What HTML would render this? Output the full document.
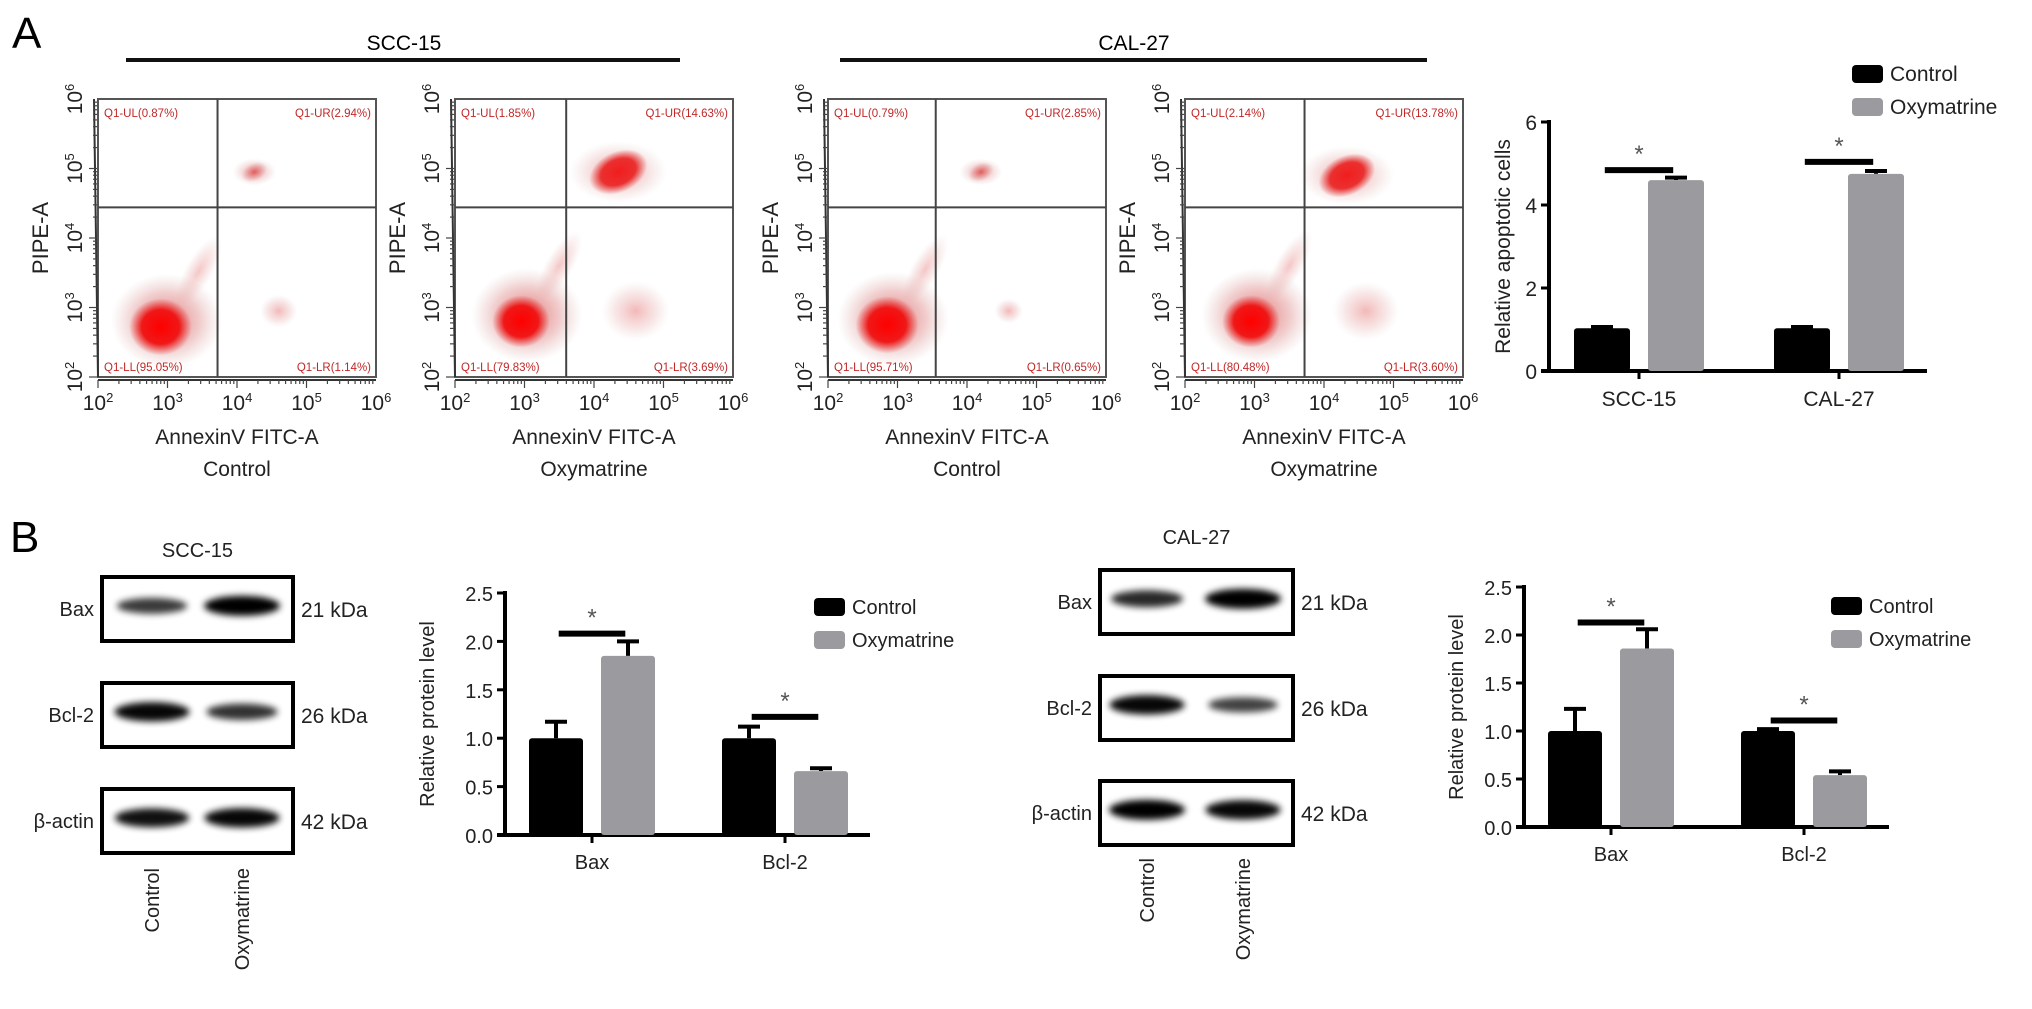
<!DOCTYPE html>
<html><head><meta charset="utf-8"><title>Oxymatrine apoptosis figure</title>
<style>
html,body{margin:0;padding:0;background:#fff;}
svg{display:block;font-family:"Liberation Sans",Arial,sans-serif;}
</style></head>
<body>
<svg id="fig" width="2032" height="1009" viewBox="0 0 2032 1009" xmlns="http://www.w3.org/2000/svg">
<defs>
<filter id="blur3" x="-30%" y="-60%" width="160%" height="220%"><feGaussianBlur stdDeviation="3.5"/></filter>
<radialGradient id="coreGrad"><stop offset="0" stop-color="#ff0000" stop-opacity="1"/><stop offset="0.6" stop-color="#f01010" stop-opacity="0.95"/><stop offset="1" stop-color="#e03030" stop-opacity="0"/></radialGradient>
<radialGradient id="haloGrad"><stop offset="0" stop-color="#e04040" stop-opacity="0.75"/><stop offset="0.6" stop-color="#d87070" stop-opacity="0.35"/><stop offset="1" stop-color="#d0a0a0" stop-opacity="0"/></radialGradient>
</defs>
<text x="12" y="48" font-size="44">A</text>
<text x="404" y="50" font-size="21" text-anchor="middle">SCC-15</text>
<line x1="126" y1="60" x2="680" y2="60" stroke="#111" stroke-width="4"/>
<text x="1134" y="50" font-size="21" text-anchor="middle">CAL-27</text>
<line x1="840" y1="60" x2="1427" y2="60" stroke="#111" stroke-width="4"/>
<text x="10" y="552" font-size="44">B</text>
<g id="flow"></g><g id="apop"></g><g id="blots"></g><g id="prot1"></g><g id="prot2"></g>
</svg>
<script>
// ---------- data ----------
const flowConditions = ['Control','Oxymatrine','Control','Oxymatrine'];
const flowUL = [0.87, 1.85, 0.79, 2.14];
const flowUR = [2.94, 14.63, 2.85, 13.78];
const flowLL = [95.05, 79.83, 95.71, 80.48];
const flowLR = [1.14, 3.69, 0.65, 3.60];
const flowGateX = [3.72, 3.6, 3.55, 3.72];
const flowGateY = [4.44, 4.44, 4.44, 4.44];
const flowLLX = [2.9, 2.95, 2.85, 2.95];
const flowLLY = [2.72, 2.8, 2.75, 2.8];
const flowURX = [4.25, 4.35, 4.2, 4.33];
const flowURY = [4.95, 4.95, 4.95, 4.9];
const flowTicks = [2,3,4,5,6];

const apopCats = ['SCC-15','CAL-27'];
const apopControl = [1.03, 1.03];
const apopControlErr = [0.03, 0.03];
const apopOxy = [4.6, 4.75];
const apopOxyErr = [0.06, 0.07];
const apopSig = [4.84, 5.04];
const apopTicks = [0, 2, 4, 6];

const protCats = ['Bax','Bcl-2'];
const protTicks = [0, 0.5, 1.0, 1.5, 2.0, 2.5];
const sccControl = [1.0, 1.0];
const sccControlErr = [0.17, 0.12];
const sccOxy = [1.85, 0.66];
const sccOxyErr = [0.15, 0.03];
const sccSig = [2.08, 1.22];
const calControl = [1.0, 1.0];
const calControlErr = [0.23, 0.02];
const calOxy = [1.86, 0.54];
const calOxyErr = [0.2, 0.04];
const calSig = [2.13, 1.11];

const blotProteins = ['Bax','Bcl-2','β-actin'];
const blotKDa = ['21 kDa','26 kDa','42 kDa'];
const sccBandControl = [0.65, 0.95, 0.9];
const sccBandOxy = [1.0, 0.7, 0.95];
const calBandControl = [0.75, 0.95, 1.0];
const calBandOxy = [1.0, 0.6, 0.95];

// ---------- helpers ----------
const NS = 'http://www.w3.org/2000/svg';
function mk(tag, attrs, parent){
  const e = document.createElementNS(NS, tag);
  for (const k in attrs) e.setAttribute(k, attrs[k]);
  parent.appendChild(e);
  return e;
}
function txt(parent, x, y, s, size, anchor, extra){
  const t = mk('text', Object.assign({x:x, y:y, 'font-size':size, 'text-anchor':anchor||'start'}, extra||{}), parent);
  t.textContent = s;
  return t;
}

// ---------- flow cytometry ----------
const flowG = document.getElementById('flow');
const flowLeft = [98, 455, 828, 1185];
const flowTop = 99, flowW = 278, flowH = 278;
for (let p = 0; p < 4; p++) {
  const L = flowLeft[p];
  const g = mk('g', {}, flowG);
  
  
  const sx = v => L + (v - 2) / 4 * flowW;
  const sy = v => flowTop + flowH - (v - 2) / 4 * flowH;
  const clip = mk('clipPath', {id: 'fc' + p}, g);
  mk('rect', {x: L, y: flowTop, width: flowW, height: flowH}, clip);
  const dots = mk('g', {'clip-path': 'url(#fc' + p + ')'}, g);
  const ll = mk('ellipse', {cx: sx(flowLLX[p]) + 6, cy: sy(flowLLY[p]) - 6, rx: flowW*0.2, ry: flowH*0.17, fill: 'url(#haloGrad)'}, dots);
  
  
  const diag = mk('ellipse', {cx: sx(flowLLX[p] + 0.55), cy: sy(flowLLY[p] + 0.8), rx: 14, ry: 40, fill: 'url(#haloGrad)', opacity: 0.4, transform: 'rotate(30 ' + sx(flowLLX[p] + 0.55) + ' ' + sy(flowLLY[p] + 0.8) + ')'}, dots);
  
  
  const core = mk('ellipse', {cx: sx(flowLLX[p]), cy: sy(flowLLY[p]), rx: flowW*0.11*Math.sqrt(flowLL[p]/90), ry: flowH*0.1*Math.sqrt(flowLL[p]/90), fill: 'url(#coreGrad)'}, dots);
  
  
  const urR = Math.sqrt(flowUR[p] / 14);
  const ur = mk('ellipse', {cx: sx(flowURX[p]), cy: sy(flowURY[p]), rx: 30*urR, ry: 20*urR, fill: flowUR[p] > 8 ? 'url(#coreGrad)' : 'url(#haloGrad)', transform: 'rotate(-25 ' + sx(flowURX[p]) + ' ' + sy(flowURY[p]) + ')'}, dots);
  
  
  const urh = mk('ellipse', {cx: sx(flowURX[p]), cy: sy(flowURY[p]), rx: 48*urR, ry: 30*urR, fill: 'url(#haloGrad)', opacity: 0.6}, dots);
  
  
  const lr = mk('ellipse', {cx: sx(4.6), cy: sy(2.95), rx: 25*Math.sqrt(flowLR[p]/2), ry: 22*Math.sqrt(flowLR[p]/2), fill: 'url(#haloGrad)', opacity: 0.5}, dots);
  
  
  const fr = mk('rect', {x: L, y: flowTop, width: flowW, height: flowH, fill: 'none', stroke: '#555', 'stroke-width': 2}, g);
  
  
  const gx = mk('line', {x1: sx(flowGateX[p]), x2: sx(flowGateX[p]), y1: flowTop, y2: flowTop + flowH, stroke: '#444', 'stroke-width': 2}, g);
  
  
  const gy = mk('line', {x1: L, x2: L + flowW, y1: sy(flowGateY[p]), y2: sy(flowGateY[p]), stroke: '#444', 'stroke-width': 2}, g);
  
  
  mk('line', {x1: L - 4, x2: L, y1: flowTop, y2: flowTop + flowH, stroke: '#333', 'stroke-width': 2}, g);
  mk('line', {x1: L, x2: L + flowW, y1: flowTop + flowH + 3, y2: flowTop + flowH + 3, stroke: '#333', 'stroke-width': 2}, g);
  for (let d = 2; d < 6; d++) for (let k = 1; k < 10; k++) {
    const v = d + Math.log10(k);
    const len = k === 1 ? 8 : 4;
    mk('line', {x1: L - 1 - len, x2: L - 1, y1: sy(v), y2: sy(v), stroke: '#444', 'stroke-width': 1.2}, g);
    mk('line', {x1: sx(v), x2: sx(v), y1: flowTop + flowH + 3, y2: flowTop + flowH + 3 + len, stroke: '#444', 'stroke-width': 1.2}, g);
  }
  for (const t of flowTicks) {
    const xl = txt(g, sx(t), 410, '', 21, 'middle', {fill: '#222'});
    
    
    const b1 = mk('tspan', {}, xl); b1.textContent = '10';
    const s1 = mk('tspan', {dy: -8, 'font-size': 13}, xl); s1.textContent = String(t);
    const yl = txt(g, 0, 0, '', 21, 'middle', {fill: '#222', transform: 'translate(' + (L - 16) + ',' + sy(t) + ') rotate(-90)'});
    
    
    const b2 = mk('tspan', {}, yl); b2.textContent = '10';
    const s2 = mk('tspan', {dy: -8, 'font-size': 13}, yl); s2.textContent = String(t);
  }
  const yt = txt(g, 0, 0, 'PIPE-A', 22, 'middle', {fill: '#222', transform: 'translate(' + (L - 50) + ',' + (flowTop + flowH/2) + ') rotate(-90)'});
  
  
  const xt = txt(g, L + flowW/2, 444, 'AnnexinV FITC-A', 21, 'middle', {fill: '#222'});
  
  
  const ct = txt(g, L + flowW/2, 476, flowConditions[p], 21, 'middle', {fill: '#222'});
  
  
  const qc = '#c02828';
  const q1 = txt(g, L + 6, flowTop + 18, 'Q1-UL(' + flowUL[p].toFixed(2) + '%)', 11.5, 'start', {fill: qc});
   
  const q2 = txt(g, L + flowW - 5, flowTop + 18, 'Q1-UR(' + flowUR[p].toFixed(2) + '%)', 11.5, 'end', {fill: qc});
   
  const q3 = txt(g, L + 6, flowTop + flowH - 6, 'Q1-LL(' + flowLL[p].toFixed(2) + '%)', 11.5, 'start', {fill: qc});
   
  const q4 = txt(g, L + flowW - 5, flowTop + flowH - 6, 'Q1-LR(' + flowLR[p].toFixed(2) + '%)', 11.5, 'end', {fill: qc});
   
}

// ---------- bar charts ----------
function barChart(gid, cfg, cats, ctrl, ctrlErr, oxy, oxyErr, sig, ticks, tickFmt) {
  const g = document.getElementById(gid);
  const ys = v => cfg.y0 - (v / cfg.vmax) * (cfg.y0 - cfg.yTop);
  const ax = mk('line', {x1: cfg.ax, x2: cfg.ax, y1: cfg.yTop - 2, y2: cfg.y0 + 2, stroke: '#000', 'stroke-width': 4}, g);
   
  const xa = mk('line', {x1: cfg.ax - 8, x2: cfg.xEnd, y1: cfg.y0, y2: cfg.y0, stroke: '#000', 'stroke-width': 4}, g);
   
  for (const t of ticks) {
    mk('line', {x1: cfg.ax - 8, x2: cfg.ax, y1: ys(t), y2: ys(t), stroke: '#000', 'stroke-width': 3}, g);
    const tl = txt(g, cfg.ax - 12, ys(t) + 8, tickFmt(t), cfg.fs, 'end', {fill: '#222'});
     
  }
  const yt = txt(g, 0, 0, cfg.ytitle, cfg.fs, 'middle', {fill: '#222', transform: 'translate(' + cfg.ytX + ',' + ((cfg.y0 + cfg.yTop) / 2) + ') rotate(-90)'});
   
  for (let i = 0; i < cats.length; i++) {
    const cx0 = cfg.ax + cfg.off + i * cfg.groupStep;
    const cx1 = cx0 + cfg.pairStep;
    const cc = (cx0 + cx1 + cfg.bw) / 2;
    mk('line', {x1: cc, x2: cc, y1: cfg.y0, y2: cfg.y0 + 8, stroke: '#000', 'stroke-width': 3}, g);
    const cl = txt(g, cc, cfg.y0 + cfg.fs + 14, cats[i], cfg.fs, 'middle', {fill: '#222'});
     
    const series = [[cx0, ctrl[i], ctrlErr[i], '#000', 'control'], [cx1, oxy[i], oxyErr[i], '#9b9b9f', 'oxymatrine']];
    for (const [bx, v, e, col, nm] of series) {
      const ex = bx + cfg.bw / 2;
      const el = mk('line', {x1: ex, x2: ex, y1: ys(v), y2: ys(v + e), stroke: '#000', 'stroke-width': 4}, g);
       
      mk('line', {x1: ex - 11, x2: ex + 11, y1: ys(v + e), y2: ys(v + e), stroke: '#000', 'stroke-width': 4}, g);
      const r = mk('rect', {x: bx, y: ys(v), width: cfg.bw, height: cfg.y0 - ys(v), fill: col, rx: 3}, g);
      
      
    }
    const sl = mk('line', {x1: cx0 + cfg.bw * 0.55, x2: cx1 + cfg.bw * 0.45, y1: ys(sig[i]), y2: ys(sig[i]), stroke: '#000', 'stroke-width': 6}, g);
     
    const st = txt(g, (cx0 + cx1 + cfg.bw) / 2, ys(sig[i]) - 8, '*', 24, 'middle', {fill: '#555'});
     
  }
  const l1 = mk('rect', {x: cfg.legX, y: cfg.legY, width: 31, height: 18, rx: 4, fill: '#000'}, g);
   
  const lt1 = txt(g, cfg.legX + 38, cfg.legY + 16, 'Control', cfg.fs, 'start', {fill: '#222'});
   
  const l2 = mk('rect', {x: cfg.legX, y: cfg.legY + 33, width: 31, height: 18, rx: 4, fill: '#9b9b9f'}, g);
   
  const lt2 = txt(g, cfg.legX + 38, cfg.legY + 49, 'Oxymatrine', cfg.fs, 'start', {fill: '#222'});
   
}
barChart('apop', {ax: 1549, y0: 371, yTop: 122, vmax: 6, xEnd: 1927, off: 25, groupStep: 200, pairStep: 74, bw: 56, fs: 21, ytitle: 'Relative apoptotic cells', ytX: 1510, legX: 1852, legY: 65},
  apopCats, apopControl, apopControlErr, apopOxy, apopOxyErr, apopSig, apopTicks, t => String(t));
barChart('prot1', {ax: 505, y0: 835, yTop: 593, vmax: 2.5, xEnd: 870, off: 24, groupStep: 193, pairStep: 72, bw: 54, fs: 20, ytitle: 'Relative protein level', ytX: 434, legX: 814, legY: 598},
  protCats, sccControl, sccControlErr, sccOxy, sccOxyErr, sccSig, protTicks, t => t.toFixed(1));
barChart('prot2', {ax: 1524, y0: 827, yTop: 587, vmax: 2.5, xEnd: 1889, off: 24, groupStep: 193, pairStep: 72, bw: 54, fs: 20, ytitle: 'Relative protein level', ytX: 1463, legX: 1831, legY: 597},
  protCats, calControl, calControlErr, calOxy, calOxyErr, calSig, protTicks, t => t.toFixed(1));

// ---------- western blots ----------
let clipId = 0;
function blot(cfg, ctrlI, oxyI, title) {
  const g = mk('g', {}, document.getElementById('blots'));
  
  
  const tt = txt(g, (cfg.x0 + cfg.x1) / 2, cfg.titleY, title, 20, 'middle', {fill: '#222'});
   
  for (let r = 0; r < blotProteins.length; r++) {
    const y = cfg.rows[r];
    const h = 64;
    const cid = 'bc' + (clipId++);
    const cp = mk('clipPath', {id: cid}, g);
    mk('rect', {x: cfg.x0, y: y, width: cfg.x1 - cfg.x0, height: h}, cp);
    const bg = mk('g', {'clip-path': 'url(#' + cid + ')'}, g);
    const lanes = [[cfg.lane0, ctrlI[r]], [cfg.lane1, oxyI[r]]];
    for (const [lx, inten] of lanes) {
      const b = mk('ellipse', {cx: lx, cy: y + h * 0.45, rx: 30 + 8 * inten, ry: 4 + 6 * inten, fill: '#000', opacity: 0.35 + 0.65 * inten, filter: 'url(#blur3)'}, bg);
      
      
    }
    const box = mk('rect', {x: cfg.x0, y: y, width: cfg.x1 - cfg.x0, height: h, fill: 'none', stroke: '#000', 'stroke-width': 4}, g);
     
    const pl = txt(g, cfg.x0 - 8, y + h / 2 + 7, blotProteins[r], 20, 'end', {fill: '#222'});
     
    const kl = txt(g, cfg.x1 + 8, y + h / 2 + 8, blotKDa[r], 21, 'start', {fill: '#222'});
     
  }
  const c1 = txt(g, 0, 0, 'Control', 20, 'end', {fill: '#222', transform: 'translate(' + (cfg.lane0 + 7) + ',' + cfg.laneY + ') rotate(-90)'});
   
  const c2 = txt(g, 0, 0, 'Oxymatrine', 20, 'end', {fill: '#222', transform: 'translate(' + (cfg.lane1 + 7) + ',' + cfg.laneY + ') rotate(-90)'});
   
}
blot({x0: 102, x1: 293, rows: [577, 683, 789], lane0: 152, lane1: 242, titleY: 557, laneY: 868}, sccBandControl, sccBandOxy, 'SCC-15');
blot({x0: 1100, x1: 1293, rows: [570, 676, 781], lane0: 1147, lane1: 1243, titleY: 544, laneY: 858}, calBandControl, calBandOxy, 'CAL-27');
</script>
</body></html>
